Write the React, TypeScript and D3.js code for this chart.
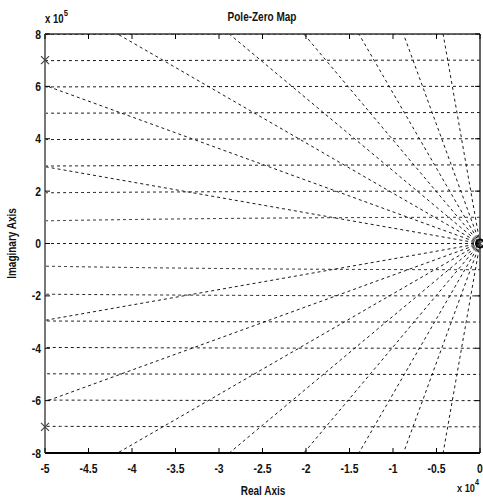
import React, { useEffect, useRef } from 'react'
import * as d3 from 'd3'

// grid values
const dampingRatios = [1, 0.168, 0.0825, 0.052, 0.036, 0.0253, 0.0174, 0.011, 0.0053]
const naturalFreqs = [1e5, 2e5, 3e5, 4e5, 5e5, 6e5, 7e5, 8e5]
const xTicks = [-5, -4.5, -4, -3.5, -3, -2.5, -2, -1.5, -1, -0.5, 0]
const yTicks = [-8, -6, -4, -2, 0, 2, 4, 6, 8]
// poles and zeros (real, imag)
const poleRe = [-5e4, -5e4, 0]
const poleIm = [7e5, -7e5, 0]
const zeroRe = [0]
const zeroIm = [0]

const W = 483
const H = 504
const margin = { top: 34, right: 3, bottom: 51, left: 45 }
const FONT = "'Liberation Sans', Arial, sans-serif"
const SQ = 0.8 // horizontal squeeze, the original font is a narrow one

const App = () => {
  const ref = useRef<SVGSVGElement | null>(null)

  useEffect(() => {
    const svg = d3.select(ref.current)
    svg.selectAll('*').remove()

    const x = d3.scaleLinear().domain([-5e4, 0]).range([margin.left, W - margin.right])
    const y = d3.scaleLinear().domain([-8e5, 8e5]).range([H - margin.bottom, margin.top])
    const x0 = margin.left, x1 = W - margin.right
    const y0 = margin.top, y1 = H - margin.bottom

    svg.append('rect').attr('width', W).attr('height', H).attr('fill', '#fff')

    svg.append('clipPath').attr('id', 'plotclip')
      .append('rect').attr('x', x0).attr('y', y0).attr('width', x1 - x0).attr('height', y1 - y0)

    const grid = svg.append('g').attr('clip-path', 'url(#plotclip)')
      .attr('fill', 'none').attr('stroke', '#000').attr('stroke-width', 0.9)
      .attr('stroke-dasharray', '3,3')

    const line = d3.line<[number, number]>().x(d => x(d[0])).y(d => y(d[1]))
    const R = 1e8

    // damping lines (rays from origin)
    dampingRatios.forEach(z => {
      const s = Math.sqrt(1 - z * z)
      grid.append('path').attr('d', line([[0, 0], [-z * R, s * R]]))
      if (z < 1) grid.append('path').attr('d', line([[0, 0], [-z * R, -s * R]]))
    })

    // natural frequency semicircles
    const angles = d3.range(90, 270.01, 0.05).map(a => a * Math.PI / 180)
    naturalFreqs.forEach(wn => {
      const pts = angles.map(a => [wn * Math.cos(a), wn * Math.sin(a)] as [number, number])
        .filter(p => p[0] >= -5.2e4)
      grid.append('path').attr('d', line(pts.filter(p => p[1] >= 0)))
      grid.append('path').attr('d', line(pts.filter(p => p[1] <= 0)))
    })

    // text helper: squeezed, bold-ish like the narrow original
    const label = (g: any, tx: number, ty: number, txt: string, anchor: string, size: number, rot = 0) => {
      const t = g.append('text')
        .attr('transform', `translate(${tx},${ty}) rotate(${rot}) scale(${SQ},1)`)
        .attr('text-anchor', anchor).attr('font-family', FONT).attr('font-size', size)
        .attr('font-weight', 'bold').attr('fill', '#111')
      t.text(txt)
      return t
    }

    // axes box
    const axes = svg.append('g')
    axes.append('line').attr('x1', x0).attr('x2', x1).attr('y1', y0).attr('y2', y0)
      .attr('stroke', '#333').attr('stroke-width', 1.5)
    axes.append('line').attr('x1', x0).attr('x2', x1).attr('y1', y1).attr('y2', y1)
      .attr('stroke', '#000').attr('stroke-width', 2)
    axes.append('line').attr('x1', x0).attr('x2', x0).attr('y1', y0).attr('y2', y1)
      .attr('stroke', '#777').attr('stroke-width', 2)
    axes.append('line').attr('x1', x1).attr('x2', x1).attr('y1', y0).attr('y2', y1)
      .attr('stroke', '#333').attr('stroke-width', 1.5)

    // ticks
    xTicks.forEach(t => {
      const px = x(t * 1e4)
      axes.append('line').attr('x1', px).attr('x2', px).attr('y1', y0).attr('y2', y0 + 5)
        .attr('stroke', '#000')
      axes.append('line').attr('x1', px).attr('x2', px).attr('y1', y1).attr('y2', y1 - 5)
        .attr('stroke', '#000')
      label(axes, px, y1 + 20, String(t), 'middle', 13)
    })
    yTicks.forEach(t => {
      const py = y(t * 1e5)
      axes.append('line').attr('x1', x0).attr('x2', x0 + 5).attr('y1', py).attr('y2', py)
        .attr('stroke', '#000')
      axes.append('line').attr('x1', x1).attr('x2', x1 - 5).attr('y1', py).attr('y2', py)
        .attr('stroke', '#000')
      label(axes, x0 - 4, py + 4.5, String(t), 'end', 13)
    })

    // exponents
    const e5 = label(axes, x0, 23, '', 'start', 12)
    e5.append('tspan').text('x 10')
    e5.append('tspan').attr('dy', -7).attr('font-size', 9.5).text('5')
    const e4 = label(axes, 457, 492, '', 'start', 11.5)
    e4.append('tspan').text('x 10')
    e4.append('tspan').attr('dy', -7).attr('font-size', 9).text('4')

    // titles
    label(svg, 262, 21, 'Pole-Zero Map', 'middle', 12.5)
    label(svg, 263, 495, 'Real Axis', 'middle', 12.5)
    label(svg, 16, (y0 + y1) / 2, 'Imaginary Axis', 'middle', 12.5, -90)

    // poles and zeros
    const marks = svg.append('g').attr('stroke', '#444').attr('stroke-width', 1.2).attr('fill', 'none')
    poleRe.forEach((re, i) => {
      const px = x(re), py = y(poleIm[i])
      marks.append('path').attr('d', `M${px - 4},${py - 4}L${px + 4},${py + 4}M${px - 4},${py + 4}L${px + 4},${py - 4}`)
    })
    zeroRe.forEach((re, i) => {
      marks.append('circle').attr('cx', x(re)).attr('cy', y(zeroIm[i])).attr('r', 4)
        .attr('stroke', '#000').attr('stroke-width', 2)
    })
  }, [])

  return <svg ref={ref} width={W} height={H}
    style={{ display: 'block', position: 'absolute', left: 0, top: 0 }} />
}

export default App
